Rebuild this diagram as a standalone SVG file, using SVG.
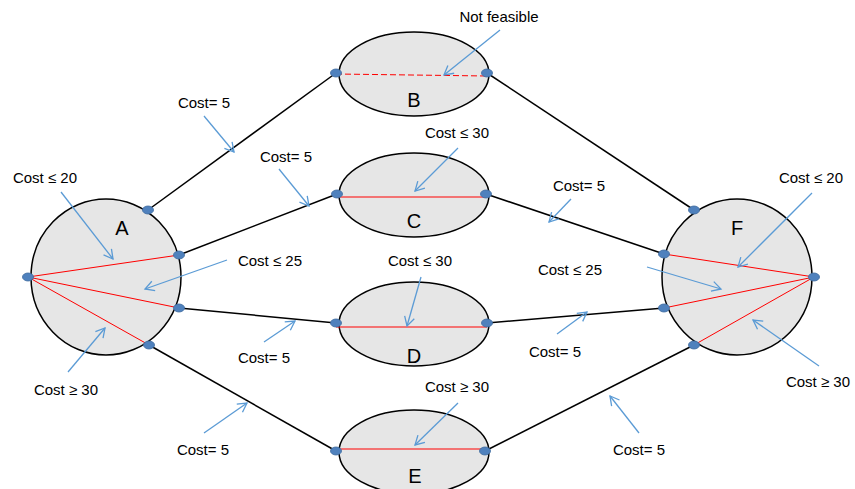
<svg xmlns="http://www.w3.org/2000/svg" width="855" height="489" viewBox="0 0 855 489">
<defs>
<marker id="ah" markerWidth="12" markerHeight="12" refX="10" refY="6" orient="auto" markerUnits="userSpaceOnUse">
<path d="M1,1 L10,6 L1,11" fill="none" stroke="#5B9BD5" stroke-width="1.3"/>
</marker>
</defs>
<style>
.node{fill:#E6E6E6;stroke:#000;stroke-width:1.5}
.dot{fill:#4F81BD;stroke:#3C6A9E;stroke-width:0.8}
.lbl{font-family:"Liberation Sans",Arial,sans-serif;font-size:20px;fill:#000;text-anchor:middle}
.t{font-family:"Liberation Sans",Arial,sans-serif;font-size:15px;fill:#000;text-anchor:middle}
.edge{stroke:#000;stroke-width:1.5;fill:none}
.red{stroke:#FF0000;stroke-width:1;fill:none}
.note{stroke:#5B9BD5;stroke-width:1.3;fill:none;marker-end:url(#ah)}
</style>
<rect width="855" height="489" fill="#fff"/>
<g id="connectors">
<line class="edge" x1="148" y1="210" x2="336" y2="73"/>
<line class="edge" x1="487" y1="73" x2="694" y2="210"/>
<line class="edge" x1="179" y1="255" x2="337" y2="194"/>
<line class="edge" x1="486" y1="194" x2="664" y2="254"/>
<line class="edge" x1="179" y1="308" x2="336" y2="323"/>
<line class="edge" x1="487" y1="323" x2="664" y2="308"/>
<line class="edge" x1="149" y1="345" x2="336" y2="451"/>
<line class="edge" x1="485" y1="451" x2="694" y2="345"/>
</g>
<g id="A">
<ellipse class="node" cx="106" cy="277" rx="75" ry="78"/>
<line class="red" x1="28" y1="277" x2="179" y2="255"/>
<line class="red" x1="28" y1="277" x2="179" y2="308"/>
<line class="red" x1="28" y1="277" x2="149" y2="345"/>
<text class="lbl" x="122" y="235">A</text>
<ellipse class="dot" cx="28" cy="277" rx="5.5" ry="4"/>
<ellipse class="dot" cx="148" cy="210" rx="5.5" ry="4"/>
<ellipse class="dot" cx="179" cy="255" rx="5.5" ry="4"/>
<ellipse class="dot" cx="179" cy="308" rx="5.5" ry="4"/>
<ellipse class="dot" cx="149" cy="345" rx="5.5" ry="4"/>
</g>
<g id="B">
<ellipse class="node" cx="414" cy="74" rx="75" ry="42"/>
<line class="red" x1="336" y1="74" x2="487" y2="76" stroke-dasharray="6,3"/>
<text class="lbl" x="414" y="107">B</text>
<ellipse class="dot" cx="336" cy="73" rx="5.5" ry="4"/>
<ellipse class="dot" cx="487" cy="73" rx="5.5" ry="4"/>
</g>
<g id="C">
<ellipse class="node" cx="414" cy="195" rx="75" ry="42"/>
<line class="red" x1="337" y1="197" x2="486" y2="197"/>
<text class="lbl" x="414" y="228">C</text>
<ellipse class="dot" cx="337" cy="194" rx="5.5" ry="4"/>
<ellipse class="dot" cx="486" cy="194" rx="5.5" ry="4"/>
</g>
<g id="D">
<ellipse class="node" cx="414" cy="324" rx="75" ry="42"/>
<line class="red" x1="336" y1="327" x2="487" y2="327"/>
<text class="lbl" x="414" y="363">D</text>
<ellipse class="dot" cx="336" cy="323" rx="5.5" ry="4"/>
<ellipse class="dot" cx="487" cy="323" rx="5.5" ry="4"/>
</g>
<g id="E">
<ellipse class="node" cx="414" cy="452" rx="75" ry="42"/>
<line class="red" x1="336" y1="449" x2="485" y2="449" stroke-width="1.5"/>
<text class="lbl" x="415" y="483">E</text>
<ellipse class="dot" cx="336" cy="451" rx="5.5" ry="4"/>
<ellipse class="dot" cx="485" cy="451" rx="5.5" ry="4"/>
</g>
<g id="F">
<ellipse class="node" cx="737" cy="277" rx="75" ry="78"/>
<line class="red" x1="814" y1="277" x2="664" y2="254"/>
<line class="red" x1="814" y1="277" x2="664" y2="308"/>
<line class="red" x1="814" y1="277" x2="694" y2="345"/>
<text class="lbl" x="737" y="235">F</text>
<ellipse class="dot" cx="814" cy="277" rx="5.5" ry="4"/>
<ellipse class="dot" cx="694" cy="210" rx="5.5" ry="4"/>
<ellipse class="dot" cx="664" cy="254" rx="5.5" ry="4"/>
<ellipse class="dot" cx="664" cy="308" rx="5.5" ry="4"/>
<ellipse class="dot" cx="694" cy="345" rx="5.5" ry="4"/>
</g>
<g id="annotations">
<text class="t" x="499" y="22">Not feasible</text>
<line class="note" x1="500" y1="30" x2="444" y2="75"/>
<text class="t" x="204" y="108">Cost= 5</text>
<line class="note" x1="204" y1="116" x2="234" y2="152"/>
<text class="t" x="286" y="162">Cost= 5</text>
<line class="note" x1="279" y1="169" x2="309" y2="206"/>
<text class="t" x="457" y="138">Cost ≤ 30</text>
<line class="note" x1="458" y1="148" x2="415" y2="191"/>
<text class="t" x="579" y="191">Cost= 5</text>
<line class="note" x1="571" y1="199" x2="549" y2="222"/>
<text class="t" x="45" y="183">Cost ≤ 20</text>
<line class="note" x1="61" y1="192" x2="113" y2="259"/>
<text class="t" x="270" y="266">Cost ≤ 25</text>
<line class="note" x1="227" y1="260" x2="145" y2="289"/>
<text class="t" x="66" y="395">Cost ≥ 30</text>
<line class="note" x1="68" y1="372" x2="105" y2="328"/>
<text class="t" x="420" y="266">Cost ≤ 30</text>
<line class="note" x1="421" y1="277" x2="407" y2="326"/>
<text class="t" x="264" y="363">Cost= 5</text>
<line class="note" x1="264" y1="342" x2="295" y2="321"/>
<text class="t" x="555" y="357">Cost= 5</text>
<line class="note" x1="557" y1="334" x2="587" y2="312"/>
<text class="t" x="570" y="275">Cost ≤ 25</text>
<line class="note" x1="647" y1="267" x2="721" y2="289"/>
<text class="t" x="811" y="183">Cost ≤ 20</text>
<line class="note" x1="812" y1="193" x2="738" y2="267"/>
<text class="t" x="818" y="387">Cost ≥ 30</text>
<line class="note" x1="819" y1="366" x2="753" y2="320"/>
<text class="t" x="457" y="392">Cost ≥ 30</text>
<line class="note" x1="458" y1="403" x2="415" y2="445"/>
<text class="t" x="203" y="455">Cost= 5</text>
<line class="note" x1="204" y1="433" x2="247" y2="403"/>
<text class="t" x="639" y="455">Cost= 5</text>
<line class="note" x1="639" y1="433" x2="610" y2="396"/>
</g>
</svg>
